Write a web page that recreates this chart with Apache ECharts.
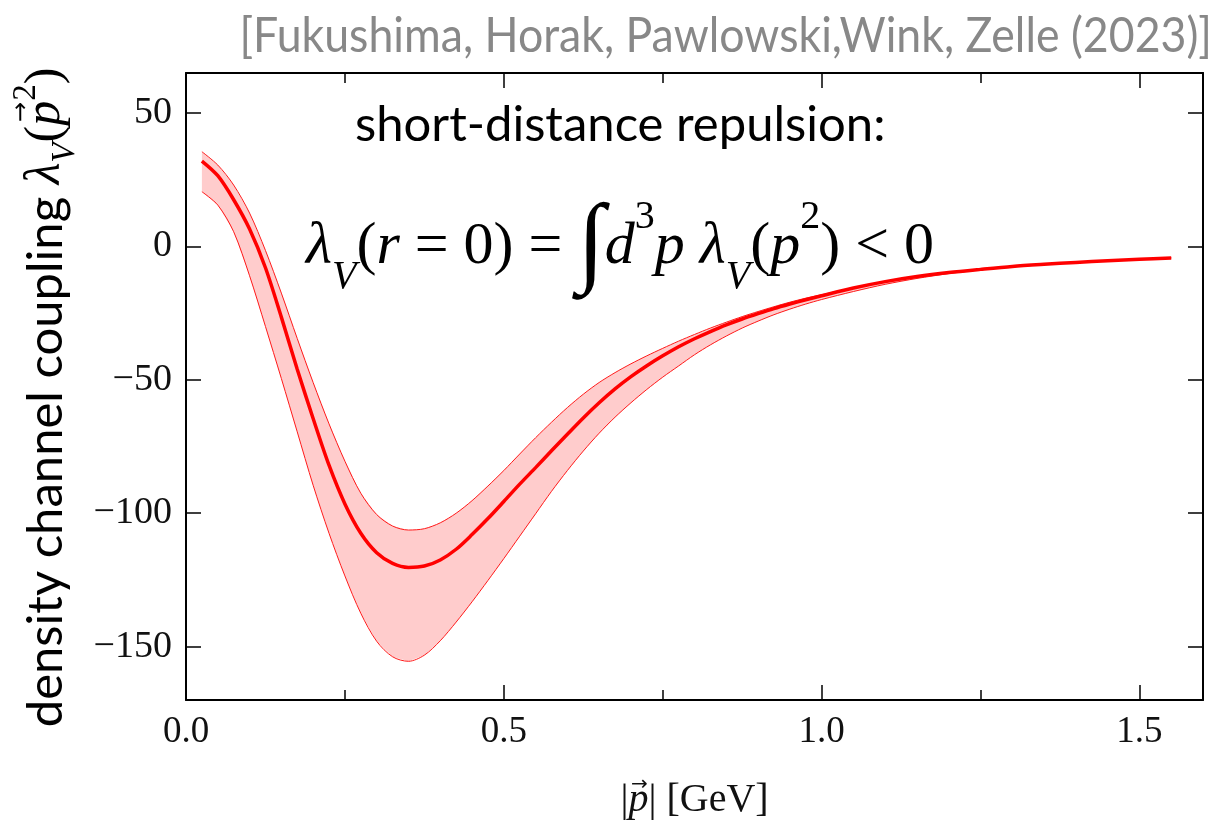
<!DOCTYPE html>
<html><head><meta charset="utf-8">
<script src="https://cdn.jsdelivr.net/npm/echarts@6/dist/echarts.min.js"></script>
<style>html,body{margin:0;padding:0;background:#fff}#c{width:1228px;height:822px}</style>
</head><body><div id="c"></div>
<script>
const momentum = [0.025, 0.05, 0.075, 0.1, 0.125, 0.15, 0.175, 0.2, 0.225, 0.25, 0.275, 0.3, 0.325, 0.35, 0.375, 0.4, 0.425, 0.45, 0.475, 0.5,
  0.525, 0.55, 0.575, 0.6, 0.625, 0.65, 0.675, 0.7, 0.725, 0.75, 0.775, 0.8, 0.825, 0.85, 0.875, 0.9, 0.925, 0.95, 0.975, 1.0,
  1.05, 1.1, 1.15, 1.2, 1.25, 1.3, 1.35, 1.4, 1.45, 1.5, 1.55];
const central = [32.0, 26.5, 17.5, 6.5, -8, -26.5, -46, -64.5, -82, -96.5, -107.5, -114.8, -118.8, -120.3, -119.8, -117.5, -113.5, -108, -102, -95.6,
  -89.1, -82.9, -76.6, -70.4, -64.3, -58.6, -53.4, -48.8, -44.7, -41.0, -37.6, -34.6, -31.9, -29.4, -27.2, -25.2, -23.3, -21.6, -20.0, -18.5,
  -15.6, -13.2, -11.3, -9.8, -8.6, -7.5, -6.7, -6.0, -5.35, -4.8, -4.3];
const upper = [35.5, 30.5, 23, 12.5, -1.5, -17.5, -34.5, -51, -66.5, -80.5, -92.5, -100.5, -104.8, -106.3, -105.8, -103.6, -100, -95.3, -89.8, -84,
  -77.8, -71.7, -65.9, -60.4, -55.4, -51, -47.3, -44, -41, -38.2, -35.5, -33, -30.6, -28.4, -26.3, -24.4, -22.6, -20.9, -19.4, -18.1,
  -15.5, -13.1, -11.2, -9.7, -8.5, -7.4, -6.6, -5.9, -5.25, -4.7, -4.2];
const lower = [20.5, 15.5, 5.5, -11, -30, -49.5, -69.5, -89.5, -107.5, -123.5, -137.5, -148, -153.8, -155.5, -153.2, -147.8, -140.8, -133.2, -125.2, -117,
  -108.6, -100.2, -91.8, -84, -76.7, -70, -64, -58.6, -53.6, -49, -44.8, -40.6, -36.9, -33.6, -30.6, -28, -25.6, -23.5, -21.6, -19.9,
  -16.9, -14.2, -12.0, -10.2, -8.8, -7.7, -6.85, -6.1, -5.45, -4.9, -4.4];
const xMajorTicks = [0, 0.5, 1.0, 1.5];
const xMinorTicks = [0.25, 0.75, 1.25];
const yTicks = [-150, -100, -50, 0, 50];

const SERIF = '"Liberation Serif", "DejaVu Serif", serif';
const SANS = 'Lato, "Open Sans", sans-serif';
const chart = echarts.init(document.getElementById('c'));
const pairs = arr => momentum.map((x, i) => [x, arr[i]]);
const fmtY = v => (v < 0 ? '\u2212' + Math.abs(v) : String(v));

function xAx(pos, ticks, len, showLine, showLabel, extra) {
  return Object.assign({
    type: 'value', min: 0, max: 1.6, position: pos, z: 10,
    axisLine: { show: showLine, onZero: false, lineStyle: { color: '#000', width: 2 } },
    axisTick: { show: true, inside: true, length: len, customValues: ticks, lineStyle: { color: '#000', width: 1.5 } },
    axisLabel: showLabel ? { show: true, customValues: xMajorTicks, formatter: v => v.toFixed(1), fontFamily: SERIF, fontSize: 37, color: '#111', margin: 14 } : { show: false },
    splitLine: { show: false }
  }, extra || {});
}
function yAx(pos, showLabel, extra) {
  return Object.assign({
    type: 'value', min: -170, max: 65, position: pos, z: 10,
    axisLine: { show: true, onZero: false, lineStyle: { color: '#000', width: 2 } },
    axisTick: { show: true, inside: true, length: 15, customValues: yTicks, lineStyle: { color: '#000', width: 1.5 } },
    axisLabel: showLabel ? { show: true, customValues: yTicks, formatter: fmtY, fontFamily: SERIF, fontSize: 38, color: '#111', margin: 14 } : { show: false },
    splitLine: { show: false }
  }, extra || {});
}

chart.setOption({
  animation: false,
  backgroundColor: '#fff',
  grid: { left: 186, right: 25, top: 73, bottom: 122, containLabel: false, outerBoundsMode: 'none' },
  xAxis: [
    xAx('bottom', xMinorTicks, 10, true, true, {
      name: '{n||}{ar|\u2192}{pv|p}{n|| [GeV]}', nameLocation: 'middle', nameGap: 75,
      nameTextStyle: {
        rich: {
          n: { fontFamily: SERIF, fontSize: 40, color: '#111', lineHeight: 50 },
          pv: { fontFamily: SERIF, fontStyle: 'italic', fontSize: 40, color: '#111', lineHeight: 50 },
          ar: { fontFamily: 'DejaVu Sans', fontSize: 20, color: '#111', lineHeight: 22, verticalAlign: 'top', width: 0, padding: [0, -11, 0, 11] }
        }
      }
    }),
    xAx('bottom', xMajorTicks, 15, false, false),
    xAx('top', xMinorTicks, 10, true, false),
    xAx('top', xMajorTicks, 15, false, false)
  ],
  yAxis: [
    yAx('left', true, {
      name: '{t|density channel coupling }{m|\u03BB}{sub|V}{n|(}{ar|\u2192}{pv|p}{sup|2}{n|)}',
      nameLocation: 'middle', nameGap: 104, nameRotate: 90,
      nameTextStyle: {
        padding: [0, 22, 0, 0],
        rich: {
          t: { fontFamily: SANS, fontSize: 49, color: '#000', lineHeight: 72 },
          m: { fontFamily: SERIF, fontStyle: 'italic', fontSize: 50, color: '#000', lineHeight: 72 },
          n: { fontFamily: SERIF, fontSize: 50, color: '#000', lineHeight: 72 },
          pv: { fontFamily: SERIF, fontStyle: 'italic', fontSize: 50, color: '#000', lineHeight: 72 },
          ar: { fontFamily: 'DejaVu Sans', fontSize: 24, color: '#000', lineHeight: 38, verticalAlign: 'top', width: 0, padding: [0, -14, 0, 14] },
          sub: { fontFamily: SERIF, fontStyle: 'italic', fontSize: 33, color: '#000', lineHeight: 36, verticalAlign: 'bottom' },
          sup: { fontFamily: SERIF, fontSize: 33, color: '#000', lineHeight: 42, verticalAlign: 'top' }
        }
      }
    }),
    yAx('right', false)
  ],
  series: [
    { name: 'band', type: 'custom', xAxisIndex: 0, yAxisIndex: 0, data: [0], z: 1, silent: true,
      renderItem: function (params, api) {
        const pts = [];
        for (let i = 0; i < momentum.length; i++) pts.push(api.coord([momentum[i], upper[i]]));
        for (let i = momentum.length - 1; i >= 0; i--) pts.push(api.coord([momentum[i], lower[i]]));
        return { type: 'polygon', shape: { points: pts }, style: { fill: '#ffcccc', stroke: null } };
      } },
    { name: 'upper', type: 'line', xAxisIndex: 0, yAxisIndex: 0, data: pairs(upper),
      symbol: 'none', smooth: 0.3, lineStyle: { color: '#ff1a1a', width: 1 }, z: 3 },
    { name: 'lower', type: 'line', xAxisIndex: 0, yAxisIndex: 0, data: pairs(lower),
      symbol: 'none', smooth: 0.3, lineStyle: { color: '#ff1a1a', width: 1 }, z: 3 },
    { name: 'central', type: 'line', xAxisIndex: 0, yAxisIndex: 0, data: pairs(central),
      symbol: 'none', smooth: 0.3, lineStyle: { color: '#ff0000', width: 3.5 }, z: 5 }
  ],
  graphic: [
    { type: 'text', x: 1212, y: 37, scaleX: 0.93, z: 10,
      style: { text: '[Fukushima, Horak, Pawlowski,Wink, Zelle (2023)]', fontFamily: SANS, fontSize: 48, fill: '#888',
        textAlign: 'right', textVerticalAlign: 'middle' } },
    { type: 'text', left: 355, top: 101, z: 10,
      style: { text: 'short-distance repulsion:', fontFamily: SANS, fontSize: 49, fill: '#000' } },
    { type: 'text', left: 306, top: 197, z: 10,
      style: {
        text: '{m|\u03BB}{sub|V}{n|(}{m|r}{n| = 0) = }{int|\u222B}{m|d}{sup|3}{m|p \u03BB}{sub|V}{n|(}{m|p}{sup|2}{n|) < 0}',
        rich: {
          m: { fontFamily: SERIF, fontStyle: 'italic', fontSize: 60, fill: '#000', lineHeight: 100 },
          n: { fontFamily: SERIF, fontSize: 60, fill: '#000', lineHeight: 100 },
          int: { fontFamily: SERIF, fontSize: 100, fill: '#000', lineHeight: 100 },
          sub: { fontFamily: SERIF, fontStyle: 'italic', fontSize: 40, fill: '#000', lineHeight: 54, verticalAlign: 'bottom' },
          sup: { fontFamily: SERIF, fontSize: 40, fill: '#000', lineHeight: 61, verticalAlign: 'top' }
        }
      } }
  ]
});
</script>
</body></html>
